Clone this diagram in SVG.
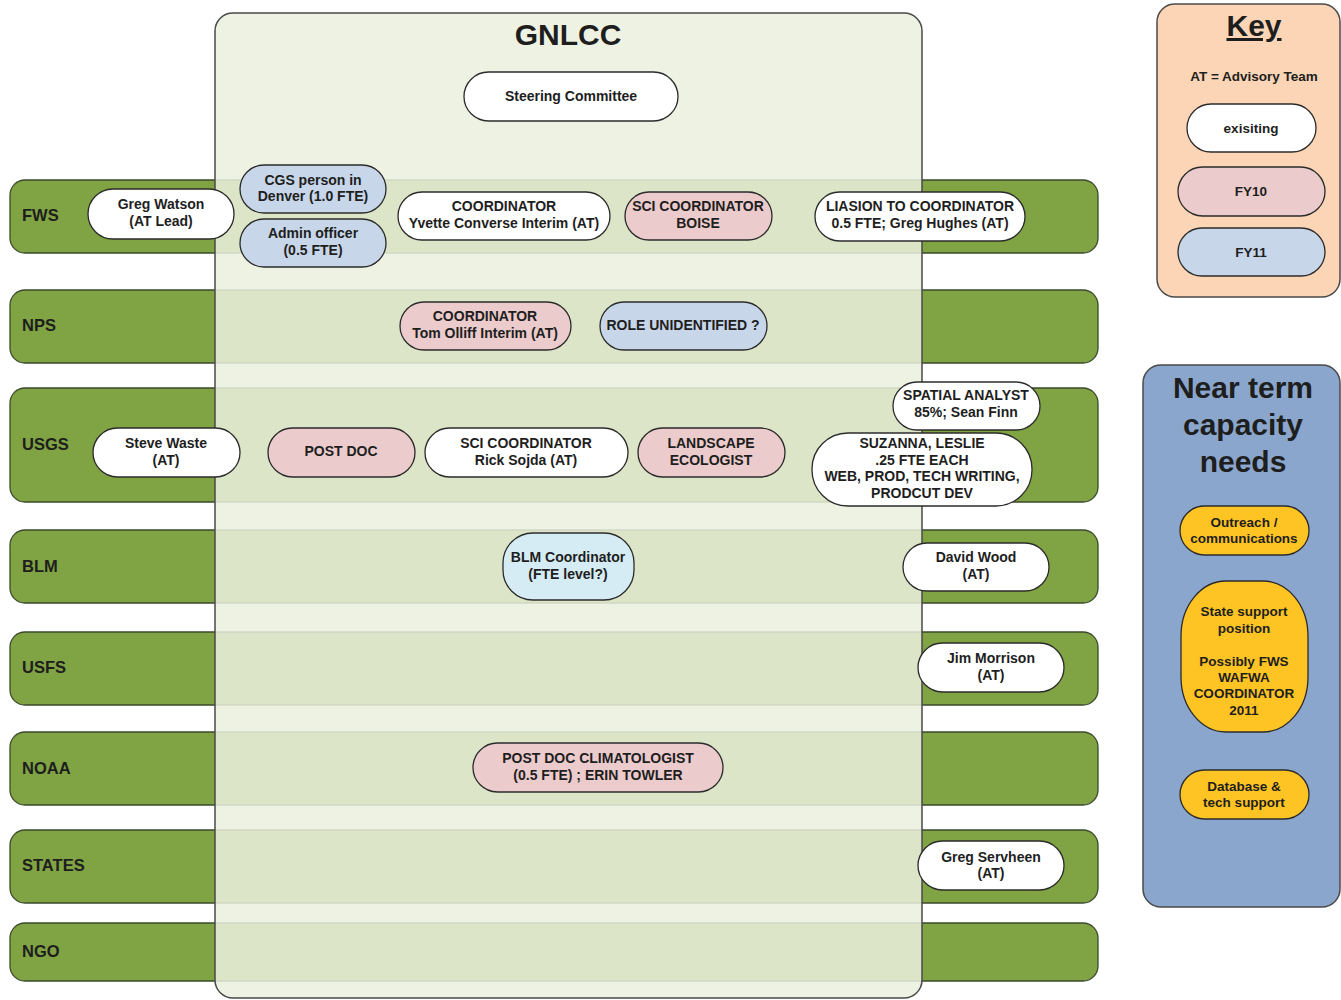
<svg xmlns="http://www.w3.org/2000/svg" width="1341" height="1000" viewBox="0 0 1341 1000">
<style>
text{font-family:"Liberation Sans",Arial,sans-serif;font-weight:bold;fill:#1e1e1e;text-anchor:middle}
.lane{fill:#80a343;stroke:#3b4a2a;stroke-width:1.3}
.lbl{font-size:16.5px;text-anchor:start}
.n{font-size:14px}
.k{font-size:13.5px}
.white{fill:#ffffff;stroke:#2b2b2b;stroke-width:1.3}
.pink{fill:#ebcbcb;stroke:#2b2b2b;stroke-width:1.3}
.blue{fill:#c7d6e8;stroke:#2b2b2b;stroke-width:1.3}
.cyan{fill:#d6ecf4;stroke:#2b2b2b;stroke-width:1.3}
.gold{fill:#fec423;stroke:#2b2b2b;stroke-width:1.3}
</style>
<rect width="1341" height="1000" fill="#ffffff"/>
<g id="lanes">
<rect class="lane" x="10" y="180" width="1088" height="73" rx="15"/>
<rect class="lane" x="10" y="290" width="1088" height="73" rx="15"/>
<rect class="lane" x="10" y="388" width="1088" height="114" rx="15"/>
<rect class="lane" x="10" y="530" width="1088" height="73" rx="15"/>
<rect class="lane" x="10" y="632" width="1088" height="73" rx="15"/>
<rect class="lane" x="10" y="732" width="1088" height="73" rx="15"/>
<rect class="lane" x="10" y="830" width="1088" height="73" rx="15"/>
<rect class="lane" x="10" y="923" width="1088" height="58" rx="15"/>
</g>
<g id="gnlcc">
<rect x="215" y="13" width="707" height="985" rx="18" fill="#ebf0de" fill-opacity="0.86" stroke="#4a4a4a" stroke-width="1.5"/>
<text x="568" y="45" style="font-size:30px">GNLCC</text>
</g>
<g id="lane-labels">
<text class="lbl" x="22" y="221">FWS</text>
<text class="lbl" x="22" y="331">NPS</text>
<text class="lbl" x="22" y="450">USGS</text>
<text class="lbl" x="22" y="572">BLM</text>
<text class="lbl" x="22" y="673">USFS</text>
<text class="lbl" x="22" y="774">NOAA</text>
<text class="lbl" x="22" y="871">STATES</text>
<text class="lbl" x="22" y="957">NGO</text>
</g>
<g id="connectors"></g>
<g id="steering"><rect class="white" x="464" y="72" width="214" height="49" rx="24.5"/><text class="n" x="571" y="101">Steering Committee</text></g>
<g id="greg-watson"><rect class="white" x="88" y="189" width="146" height="50" rx="25"/><text class="n" x="161" y="209">Greg Watson</text><text class="n" x="161" y="226">(AT Lead)</text></g>
<g id="cgs"><rect class="blue" x="240" y="165" width="146" height="48" rx="24"/><text class="n" x="313" y="185">CGS person in</text><text class="n" x="313" y="201">Denver (1.0 FTE)</text></g>
<g id="admin"><rect class="blue" x="240" y="219" width="146" height="48" rx="24"/><text class="n" x="313" y="238">Admin officer</text><text class="n" x="313" y="255">(0.5 FTE)</text></g>
<g id="coord-yvette"><rect class="white" x="398" y="192" width="212" height="48" rx="24"/><text class="n" x="504" y="211">COORDINATOR</text><text class="n" x="504" y="228">Yvette Converse Interim (AT)</text></g>
<g id="sci-boise"><rect class="pink" x="625" y="192" width="147" height="48" rx="24"/><text class="n" x="698" y="211">SCI COORDINATOR</text><text class="n" x="698" y="228">BOISE</text></g>
<g id="liasion"><rect class="white" x="815" y="192" width="210" height="49" rx="24.5"/><text class="n" x="920" y="211">LIASION TO COORDINATOR</text><text class="n" x="920" y="228">0.5 FTE; Greg Hughes (AT)</text></g>
<g id="coord-tom"><rect class="pink" x="400" y="302" width="171" height="48" rx="24"/><text class="n" x="485" y="321">COORDINATOR</text><text class="n" x="485" y="338">Tom Olliff Interim (AT)</text></g>
<g id="role-unidentified"><rect class="blue" x="600" y="302" width="167" height="48" rx="24"/><text class="n" x="683" y="330">ROLE UNIDENTIFIED ?</text></g>
<g id="spatial"><rect class="white" x="893" y="382" width="147" height="48" rx="24"/><text class="n" x="966" y="400">SPATIAL ANALYST</text><text class="n" x="966" y="417">85%; Sean Finn</text></g>
<g id="suzanna"><rect class="white" x="812" y="433" width="220" height="73" rx="36"/><text class="n" x="922" y="448">SUZANNA, LESLIE</text><text class="n" x="922" y="465">.25 FTE EACH</text><text class="n" x="922" y="481">WEB, PROD, TECH WRITING,</text><text class="n" x="922" y="498">PRODCUT DEV</text></g>
<g id="steve-waste"><rect class="white" x="93" y="428" width="147" height="49" rx="24.5"/><text class="n" x="166" y="448">Steve Waste</text><text class="n" x="166" y="465">(AT)</text></g>
<g id="post-doc"><rect class="pink" x="268" y="428" width="147" height="49" rx="24.5"/><text class="n" x="341" y="456">POST DOC</text></g>
<g id="sci-rick"><rect class="white" x="425" y="428" width="203" height="49" rx="24.5"/><text class="n" x="526" y="448">SCI COORDINATOR</text><text class="n" x="526" y="465">Rick Sojda (AT)</text></g>
<g id="landscape"><rect class="pink" x="638" y="428" width="147" height="49" rx="24.5"/><text class="n" x="711" y="448">LANDSCAPE</text><text class="n" x="711" y="465">ECOLOGIST</text></g>
<g id="blm-coord"><rect class="cyan" x="503" y="533" width="131" height="67" rx="30"/><text class="n" x="568" y="562">BLM Coordinator</text><text class="n" x="568" y="579">(FTE level?)</text></g>
<g id="david-wood"><rect class="white" x="903" y="543" width="146" height="48" rx="24"/><text class="n" x="976" y="562">David Wood</text><text class="n" x="976" y="579">(AT)</text></g>
<g id="jim-morrison"><rect class="white" x="918" y="643" width="146" height="49" rx="24.5"/><text class="n" x="991" y="663">Jim Morrison</text><text class="n" x="991" y="680">(AT)</text></g>
<g id="post-doc-clim"><rect class="pink" x="473" y="743" width="250" height="49" rx="24.5"/><text class="n" x="598" y="763">POST DOC CLIMATOLOGIST</text><text class="n" x="598" y="780">(0.5 FTE) ; ERIN TOWLER</text></g>
<g id="greg-servheen"><rect class="white" x="918" y="841" width="146" height="49" rx="24.5"/><text class="n" x="991" y="862">Greg Servheen</text><text class="n" x="991" y="878">(AT)</text></g>
<g id="key">
<rect x="1157" y="4" width="183" height="293" rx="18" fill="#fbd5b5" stroke="#4a4a4a" stroke-width="1.5"/>
<text x="1254" y="36" style="font-size:30px;text-decoration:underline">Key</text>
<text class="k" x="1254" y="81">AT = Advisory Team</text>
<rect class="white" x="1187" y="104" width="129" height="48" rx="24"/><text class="k" x="1251" y="133">exisiting</text>
<rect class="pink" x="1178" y="167" width="147" height="49" rx="24.5"/><text class="k" x="1251" y="196">FY10</text>
<rect class="blue" x="1178" y="228" width="147" height="48" rx="24"/><text class="k" x="1251" y="257">FY11</text>
</g>
<g id="near-term">
<rect x="1143" y="365" width="197" height="542" rx="18" fill="#8aa6cc" stroke="#4a4a4a" stroke-width="1.5"/>
<text x="1243" y="398" style="font-size:30px">Near term</text>
<text x="1243" y="435" style="font-size:30px">capacity</text>
<text x="1243" y="472" style="font-size:30px">needs</text>
</g>
<g id="outreach"><rect class="gold" x="1180" y="506" width="129" height="49" rx="24.5"/><text class="k" x="1244" y="527">Outreach /</text><text class="k" x="1244" y="543">communications</text></g>
<g id="state-support"><rect class="gold" x="1181" y="581" width="127" height="151" rx="45" ry="55"/><text class="k" x="1244" y="616">State support</text><text class="k" x="1244" y="633">position</text><text class="k" x="1244" y="666">Possibly FWS</text><text class="k" x="1244" y="682">WAFWA</text><text class="k" x="1244" y="698">COORDINATOR</text><text class="k" x="1244" y="715">2011</text></g>
<g id="database"><rect class="gold" x="1180" y="770" width="129" height="49" rx="24.5"/><text class="k" x="1244" y="791">Database &amp;</text><text class="k" x="1244" y="807">tech support</text></g>
</svg>
